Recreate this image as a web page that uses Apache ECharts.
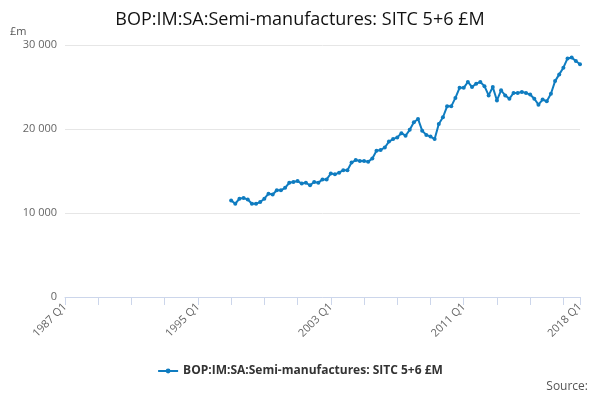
<!DOCTYPE html><html><head><meta charset="utf-8"><script src="https://cdn.jsdelivr.net/npm/echarts@6/dist/echarts.min.js"></script></head><body style="margin:0"><div id="c" style="width:600px;height:400px"></div><script>
const seriesName='BOP:IM:SA:Semi-manufactures: SITC 5+6 £M';
const startYear=1987, endYear=2018;
const dataStart='1997 Q1';
const values=[11500,11600,11500,11100,11700,11800,11600,11100,11100,11300,11700,12300,12200,12700,12700,13000,13600,13700,13800,13500,13600,13300,13700,13600,14000,14000,14700,14600,14800,15100,15100,16000,16300,16200,16200,16100,16500,17400,17500,17800,18500,18800,19000,19500,19200,19900,20800,21200,19800,19300,19100,18800,20600,21400,22700,22700,23700,24900,24900,25600,25000,25400,25600,25100,24000,25000,23400,24600,24000,23600,24300,24300,24400,24300,24100,23600,22900,23500,23300,24200,25700,26500,27300,28400,28500,28100,27700];
const shownLabels=['1987 Q1','1995 Q1','2003 Q1','2011 Q1','2018 Q1'];
const cats=[];for(let y=startYear;y<=endYear;y++)for(let q=1;q<=4;q++){cats.push(y+' Q'+q);}
const lastCat='2018 Q1';cats.length=cats.indexOf(lastCat)+1;
const s=cats.indexOf(dataStart);
const vals=values.slice(values.length-(cats.length-s));
const data=cats.map((c,i)=>i<s?null:vals[i-s]);
const ch=echarts.init(document.getElementById('c'));
ch.setOption({
title:{text:'BOP:IM:SA:Semi-manufactures: SITC 5+6 £M',left:'center',top:6,textStyle:{fontFamily:'Open Sans',fontSize:18,fontWeight:'normal',color:'#111'}},
graphic:[{type:'text',left:10,top:26,style:{text:'£m',font:'11px Open Sans',fill:'#555'}},
{type:'text',right:12,top:381,style:{text:'Source:',font:'12px Open Sans',fill:'#555'}}],
legend:{bottom:18,left:'center',textStyle:{fontFamily:'Open Sans',fontSize:12,fontWeight:'bold',color:'#333'},itemWidth:20,itemHeight:6},
grid:{left:65,right:20,top:45,bottom:103},
xAxis:{type:'category',data:cats,boundaryGap:false,
axisLine:{lineStyle:{color:'#ccd6eb'}},
axisTick:{interval:(i)=>i%8===0||i===cats.length-1,length:8,lineStyle:{color:'#ccd6eb'}},
axisLabel:{interval:(i,v)=>shownLabels.includes(v),rotate:45,color:'#666',fontFamily:'Open Sans',fontSize:11}},
yAxis:{type:'value',min:0,max:30000,interval:10000,axisLabel:{color:'#666',fontFamily:'Open Sans',fontSize:11,formatter:v=>v===0?'0':String(v).replace(/(\d)(?=(\d{3})+$)/g,'$1 ')},splitLine:{lineStyle:{color:'#e6e6e6'}}},
series:[{name:seriesName,type:'line',data:data,color:'#0f7cc0',symbol:'circle',symbolSize:4,showAllSymbol:true,lineStyle:{width:2},animation:false}]
});
</script></body></html>
